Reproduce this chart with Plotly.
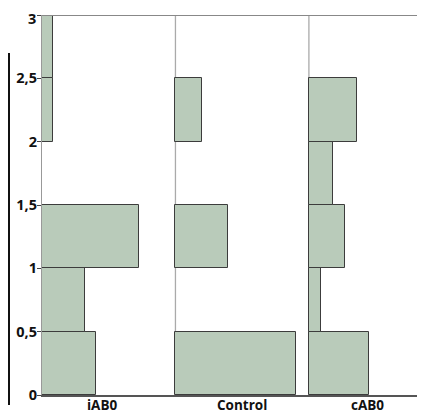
import plotly.graph_objects as go

# Data
categories = ["iAB0", "Control", "cAB0"]
bin_centers = [0.25, 0.75, 1.25, 1.75, 2.25, 2.75]
iab0_values = [40.4, 32.2, 72.7, 0, 8.2, 8.2]
control_values = [90.4, 0, 39.7, 0, 20.0, 0]
cab0_values = [44.9, 8.8, 26.7, 18.2, 36.2, 0]
panel_offsets = [0, 100, 200]
label_positions = [45, 150, 244]
y_tickvals = [0, 0.5, 1, 1.5, 2, 2.5, 3]
y_ticktext = ["0", "0,5", "1", "1,5", "2", "2,5", ""]
top_label = "3"

series = [iab0_values, control_values, cab0_values]

fig = go.Figure()
for vals, off in zip(series, panel_offsets):
    ys = [c for c, v in zip(bin_centers, vals) if v > 0]
    xs = [v for v in vals if v > 0]
    fig.add_trace(go.Bar(
        x=xs, y=ys, base=[off] * len(xs), orientation="h", width=0.5,
        marker=dict(color="#b9cbba", line=dict(color="#3c3c3c", width=1)),
        showlegend=False, hoverinfo="skip",
    ))

shapes = []
for off in panel_offsets[1:]:
    shapes.append(dict(type="line", xref="x", yref="y", x0=off, x1=off, y0=0, y1=3,
                       line=dict(color="#aaaaaa", width=1.3), layer="below"))
shapes.append(dict(type="line", xref="paper", yref="y", x0=0, x1=1, y0=3, y1=3,
                   line=dict(color="#888888", width=2)))
# dark frame edge at far left
shapes.append(dict(type="line", xref="paper", yref="paper", x0=-33/383, x1=-33/383,
                   y0=(395-53)/380, y1=(395-405)/380, line=dict(color="#111111", width=2)))

tick_font = dict(family="Open Sans", size=14.5, color="#111111", weight="bold")
annotations = []
for name, pos in zip(categories, label_positions):
    annotations.append(dict(x=pos, y=0, xref="x", yref="paper", text=name, showarrow=False,
                            yanchor="top", yshift=1,
                            font=dict(family="Open Sans", size=13.5, color="#111111", weight="bold")))
# top tick label placed just inside the page edge
annotations.append(dict(x=0, y=1, xref="paper", yref="paper", text=top_label, showarrow=False,
                        xanchor="right", yanchor="top", xshift=-5, yshift=7, borderpad=0,
                        font=tick_font))

# page body adds 8px offset; compensate in size and margins
fig.update_layout(
    width=417, height=405,
    margin=dict(l=34, r=0, t=7, b=18, pad=0),
    paper_bgcolor="white", plot_bgcolor="white",
    barmode="overlay",
    bargap=0,
    shapes=shapes,
    annotations=annotations,
    xaxis=dict(range=[0, 287], showgrid=False, zeroline=False, showticklabels=False,
               ticks="", showline=True, linecolor="#555555", linewidth=1.5, fixedrange=True),
    yaxis=dict(range=[0, 3], tickvals=y_tickvals, ticktext=y_ticktext, showgrid=False,
               zeroline=False, showline=True, linecolor="#999999", linewidth=1.3,
               ticks="outside", ticklen=4, tickcolor="#444444", tickwidth=1, automargin=False,
               ticklabeloverflow="allow", ticklabelstandoff=-3,
               tickfont=tick_font),
)

fig.write_html("out.html")
